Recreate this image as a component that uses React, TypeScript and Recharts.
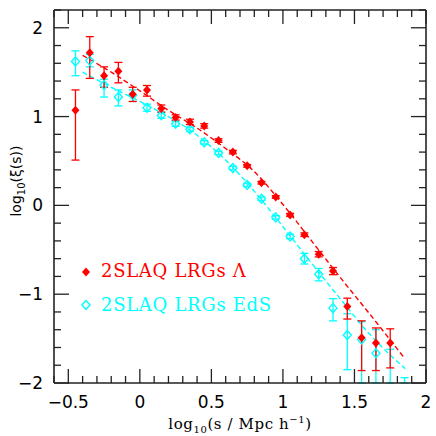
import { ComposedChart, XAxis, YAxis, Scatter, ErrorBar, Line } from "recharts";

// bin centres, log10(s)
const redX = [-0.45, -0.35, -0.25, -0.15, -0.05, 0.05, 0.15, 0.25, 0.35, 0.45, 0.55, 0.65, 0.75, 0.85, 0.95, 1.05, 1.15, 1.25, 1.35, 1.45, 1.55, 1.65, 1.75];
const redY = [1.07, 1.72, 1.46, 1.51, 1.25, 1.3, 1.09, 0.99, 0.94, 0.895, 0.73, 0.6, 0.446, 0.255, 0.094, -0.109, -0.33, -0.55, -0.74, -1.14, -1.49, -1.55, -1.55];
const redLo = [0.51, 1.43, 1.33, 1.38, 1.17, 1.23, 1.05, 0.96, 0.91, 0.87, 0.71, 0.58, 0.43, 0.24, 0.08, -0.125, -0.35, -0.58, -0.78, -1.28, -1.86, -1.86, -1.83];
const redHi = [1.3, 1.9, 1.56, 1.61, 1.33, 1.35, 1.13, 1.02, 0.97, 0.92, 0.75, 0.62, 0.46, 0.27, 0.11, -0.09, -0.31, -0.52, -0.7, -1.045, -1.3, -1.38, -1.39];

// last bars run off the bottom of the frame; lows are the visible ends
const cyanX = [-0.45, -0.35, -0.25, -0.15, -0.05, 0.05, 0.15, 0.25, 0.35, 0.45, 0.55, 0.65, 0.75, 0.85, 0.95, 1.05, 1.15, 1.25, 1.35, 1.45, 1.55, 1.65, 1.75, 1.85];
const cyanY = [1.62, 1.63, 1.356, 1.22, 1.24, 1.1, 1.015, 0.92, 0.857, 0.71, 0.59, 0.42, 0.23, 0.075, -0.135, -0.35, -0.6, -0.775, -1.157, -1.46, -1.51, -1.665, -2.1, -2.2];
const cyanLo = [1.46, 1.56, 1.22, 1.12, 1.17, 1.06, 0.98, 0.89, 0.83, 0.69, 0.57, 0.4, 0.21, 0.055, -0.155, -0.375, -0.66, -0.85, -1.3, -1.85, -2.0, -2.0, -2.0, -2.0];
const cyanHi = [1.74, 1.7, 1.42, 1.3, 1.3, 1.14, 1.05, 0.95, 0.88, 0.73, 0.61, 0.44, 0.25, 0.095, -0.115, -0.325, -0.54, -0.71, -1.05, -1.22, -1.31, -1.4, -1.62, -1.94];

// model curves
const redLineX = [-0.4, -0.2, 0, 0.2, 0.4, 0.6, 0.8, 1.0, 1.2, 1.4, 1.6, 1.84];
const redLineY = [1.69, 1.5, 1.29, 1.07, 0.87, 0.64, 0.38, 0.01, -0.4, -0.81, -1.21, -1.7];
const cyanLineX = [-0.4, -0.2, 0, 0.2, 0.4, 0.6, 0.8, 1.0, 1.2, 1.4, 1.6, 1.855];
const cyanLineY = [1.5, 1.33, 1.17, 1.0, 0.79, 0.51, 0.16, -0.24, -0.65, -1.05, -1.44, -1.84];

const xTicks = [-0.6, -0.5, -0.4, -0.3, -0.2, -0.1, 0, 0.1, 0.2, 0.3, 0.4, 0.5, 0.6, 0.7, 0.8, 0.9, 1, 1.1, 1.2, 1.3, 1.4, 1.5, 1.6, 1.7, 1.8, 1.9, 2];
const yTicks = [-2, -1.8, -1.6, -1.4, -1.2, -1, -0.8, -0.6, -0.4, -0.2, 0, 0.2, 0.4, 0.6, 0.8, 1, 1.2, 1.4, 1.6, 1.8, 2, 2.2];

const RED = "#ff0000";
const CYAN = "#00ffff";
const FRAME = "#222";

const toPoints = (xs: number[], ys: number[], lo: number[], hi: number[]) =>
  xs.map((x, i) => ({ x, y: ys[i], err: [ys[i] - lo[i], hi[i] - ys[i]] }));
const toLine = (xs: number[], ys: number[]) => xs.map((x, i) => ({ x, y: ys[i] }));

const redData = toPoints(redX, redY, redLo, redHi);
const cyanData = toPoints(cyanX, cyanY, cyanLo, cyanHi);

const isMajor = (v: number, step: number) => Math.abs(v / step - Math.round(v / step)) < 1e-6;
const fmt = (v: number) => (v < 0 ? "\u2212" + String(Math.abs(v)) : String(v));

const tickFont = { fontFamily: "DejaVu Sans", fontSize: 17, fill: "#000" };

function BottomTick({ x, y, payload }: any) {
  const v = payload.value;
  const major = isMajor(v, 0.5);
  return (
    <g>
      <line x1={x} x2={x} y1={y} y2={y - (major ? 14 : 7)} stroke={FRAME} strokeWidth={1.3} />
      {major ? (
        <text x={x} y={y + 25} textAnchor="middle" {...tickFont}>
          {fmt(v)}
        </text>
      ) : null}
    </g>
  );
}

function TopTick({ x, y, payload }: any) {
  const major = isMajor(payload.value, 0.5);
  return <line x1={x} x2={x} y1={y} y2={y + (major ? 14 : 7)} stroke={FRAME} strokeWidth={1.3} />;
}

function LeftTick({ x, y, payload }: any) {
  const v = payload.value;
  const major = isMajor(v, 1);
  return (
    <g>
      <line x1={x} x2={x + (major ? 15 : 7)} y1={y} y2={y} stroke={FRAME} strokeWidth={1.3} />
      {major ? (
        <text x={x - 11} y={y + 6} textAnchor="end" {...tickFont}>
          {fmt(v)}
        </text>
      ) : null}
    </g>
  );
}

function RightTick({ x, y, payload }: any) {
  const major = isMajor(payload.value, 1);
  return <line x1={x} x2={x - (major ? 15 : 7)} y1={y} y2={y} stroke={FRAME} strokeWidth={1.3} />;
}

function FilledDiamond({ cx, cy }: any) {
  if (cx == null || cy == null) return null;
  return <polygon points={`${cx},${cy - 4.5} ${cx + 4},${cy} ${cx},${cy + 4.5} ${cx - 4},${cy}`} fill={RED} />;
}

function OpenDiamond({ cx, cy }: any) {
  if (cx == null || cy == null) return null;
  return (
    <polygon
      points={`${cx},${cy - 4.5} ${cx + 4},${cy} ${cx},${cy + 4.5} ${cx - 4},${cy}`}
      fill="none"
      stroke={CYAN}
      strokeWidth={1.4}
    />
  );
}

const axisCommon = {
  type: "number" as const,
  interval: 0 as const,
  allowDataOverflow: true,
  tickSize: 0,
  tickMargin: 0,
  tickLine: false,
  axisLine: { stroke: FRAME, strokeWidth: 1.6 },
};

export default function App() {
  return (
    <div style={{ position: "absolute", left: 0, top: 0, width: 436, height: 436, background: "#fff" }}>
      <ComposedChart width={436} height={436} margin={{ top: 9, right: 9, left: 53, bottom: 52 }}>
        <XAxis {...axisCommon} xAxisId="b" dataKey="x" domain={[-0.6, 2]} ticks={xTicks} height={1} tick={<BottomTick />} />
        <XAxis {...axisCommon} xAxisId="t" orientation="top" dataKey="x" domain={[-0.6, 2]} ticks={xTicks} height={1} tick={<TopTick />} />
        <YAxis {...axisCommon} yAxisId="l" domain={[-2, 2.2]} ticks={yTicks} width={1} tick={<LeftTick />} />
        <YAxis {...axisCommon} yAxisId="r" orientation="right" domain={[-2, 2.2]} ticks={yTicks} width={1} tick={<RightTick />} />
        <Line
          xAxisId="b"
          yAxisId="l"
          data={toLine(redLineX, redLineY)}
          dataKey="y"
          type="monotone"
          stroke={RED}
          strokeWidth={1.4}
          strokeDasharray="5 3"
          dot={false}
          activeDot={false}
          isAnimationActive={false}
        />
        <Line
          xAxisId="b"
          yAxisId="l"
          data={toLine(cyanLineX, cyanLineY)}
          dataKey="y"
          type="monotone"
          stroke={CYAN}
          strokeWidth={1.4}
          strokeDasharray="5 3"
          dot={false}
          activeDot={false}
          isAnimationActive={false}
        />
        <Scatter xAxisId="b" yAxisId="l" data={cyanData} dataKey="y" shape={<OpenDiamond />} isAnimationActive={false}>
          <ErrorBar dataKey="err" direction="y" width={4} stroke={CYAN} strokeWidth={1.3} isAnimationActive={false} />
        </Scatter>
        <Scatter xAxisId="b" yAxisId="l" data={redData} dataKey="y" shape={<FilledDiamond />} isAnimationActive={false}>
          <ErrorBar dataKey="err" direction="y" width={4} stroke={RED} strokeWidth={1.3} isAnimationActive={false} />
        </Scatter>
      </ComposedChart>
      <svg width={436} height={436} style={{ position: "absolute", left: 0, top: 0, pointerEvents: "none" }}>
        <polygon points="86,267.5 90,272 86,276.5 82,272" fill={RED} />
        <text x={101} y={277} fill={RED} fontFamily="DejaVu Serif" fontSize={18} letterSpacing={0.7}>
          2SLAQ LRGs Λ
        </text>
        <polygon points="86,300.5 90,305 86,309.5 82,305" fill="none" stroke={CYAN} strokeWidth={1.4} />
        <text x={101} y={311} fill={CYAN} fontFamily="DejaVu Serif" fontSize={18} letterSpacing={0.7}>
          2SLAQ LRGs EdS
        </text>
        <text x={240} y={429} textAnchor="middle" fontFamily="DejaVu Serif" fontSize={15} letterSpacing={0.6} fill="#000">
          log<tspan fontSize={10} dy={4}>10</tspan>
          <tspan dy={-4}>(s / Mpc h</tspan>
          <tspan fontSize={10} dy={-6}>−1</tspan>
          <tspan dy={6}>)</tspan>
        </text>
        <text
          x={0}
          y={0}
          transform="translate(21,181) rotate(-90)"
          textAnchor="middle"
          fontFamily="DejaVu Sans"
          fontSize={14}
          fill="#000"
        >
          log<tspan fontSize={10} dy={4}>10</tspan>
          <tspan dy={-4}>(ξ(s))</tspan>
        </text>
      </svg>
    </div>
  );
}
